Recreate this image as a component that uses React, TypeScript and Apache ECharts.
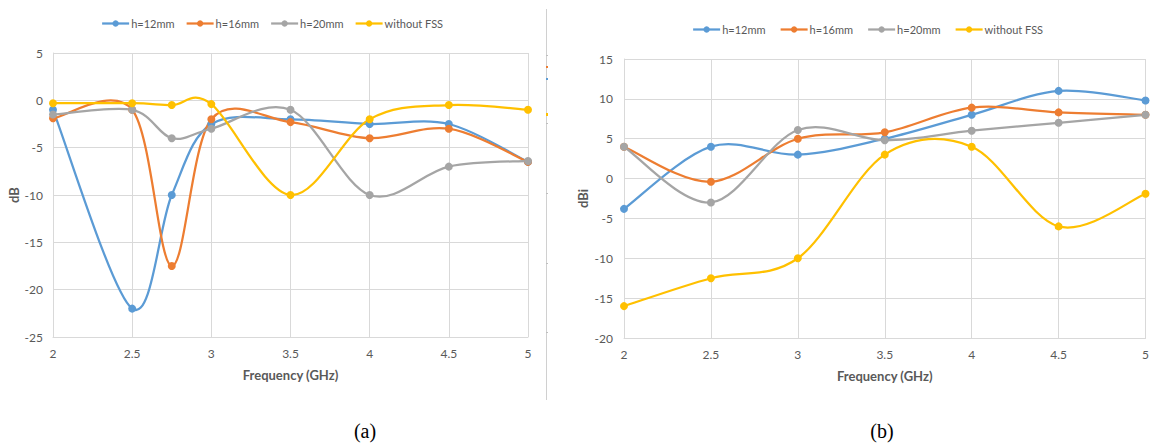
import React, { useEffect, useRef } from "react";
import * as echarts from "echarts";

const SERIES_NAMES = ["h=12mm", "h=16mm", "h=20mm", "without FSS"];
const COLORS = ["#5B9BD5", "#ED7D31", "#A5A5A5", "#FFC000"];

// Chart (a): dB vs frequency
const freqA = [2, 2.5, 2.75, 3, 3.5, 4, 4.5, 5];
const a_h12 = [-1.0, -22, -10, -2.5, -2, -2.5, -2.5, -6.5];
const a_h16 = [-1.9, -1.0, -17.5, -2, -2.3, -4, -3, -6.5];
const a_h20 = [-1.5, -1.0, -4, -3, -1, -10, -7, -6.4];
const a_noFSS = [-0.3, -0.3, -0.5, -0.4, -10, -2, -0.5, -1.0];

// Chart (b): dBi vs frequency
const freqB = [2, 2.5, 3, 3.5, 4, 4.5, 5];
const b_h12 = [-3.8, 4, 3, 5, 8, 11, 9.8];
const b_h16 = [4, -0.4, 5, 5.8, 8.9, 8.3, 8];
const b_h20 = [4, -3, 6.1, 4.8, 6, 7, 8];
const b_noFSS = [-16, -12.5, -10, 3, 4, -6, -1.9];

const xTicks = { min: 2, max: 5, interval: 0.5 };
const yTicksA = { min: -25, max: 5, interval: 5 };
const yTicksB = { min: -20, max: 15, interval: 5 };

const TXT = "#595959";
const GRID = "#D9D9D9";
const FONT = "Lato, 'Open Sans', sans-serif";

function pairs(xs: number[], ys: number[]) {
  return xs.map((x, i) => [x, ys[i]]);
}

export default function App() {
  const ref = useRef<HTMLDivElement>(null);
  useEffect(() => {
    if (!ref.current) return;
    const chart = echarts.init(ref.current, null, { renderer: "svg" });
    const xAxisBase = (gridIndex: number) => ({
      type: "value",
      gridIndex,
      ...xTicks,
      name: "Frequency (GHz)",
      nameLocation: "middle",
      nameGap: 31,
      nameTextStyle: { color: TXT, fontWeight: "bold", fontSize: 13, fontFamily: FONT },
      axisLine: { show: true, onZero: false, lineStyle: { color: GRID } },
      axisTick: { show: false },
      axisLabel: { color: TXT, fontSize: 12, fontFamily: FONT, margin: 10 },
      splitLine: { show: true, lineStyle: { color: GRID, width: 1 } },
    });
    const yAxisBase = (gridIndex: number, ticks: any, name: string, gap: number, margin: number) => ({
      type: "value",
      gridIndex,
      ...ticks,
      name,
      nameLocation: "middle",
      nameGap: gap,
      nameTextStyle: { color: TXT, fontWeight: "bold", fontSize: 13, fontFamily: FONT },
      axisLine: { show: true, lineStyle: { color: GRID } },
      axisTick: { show: false },
      axisLabel: { color: TXT, fontSize: 12, fontFamily: FONT, margin },
      splitLine: { show: true, lineStyle: { color: GRID, width: 1 } },
    });
    // markers (and legend entry) via line series; the visible smooth curve via a custom series
    const mk = (name: string, idx: number, data: number[][], axis: number) => ({
      type: "line",
      name,
      xAxisIndex: axis,
      yAxisIndex: axis,
      data,
      symbol: "circle",
      symbolSize: 8,
      lineStyle: { color: COLORS[idx], width: 2.25, opacity: 0 },
      itemStyle: { color: COLORS[idx] },
      z: 5,
    });
    const curve = (idx: number, xs: number[], ys: number[], axis: number) => ({
      type: "custom",
      name: "curve" + axis + "_" + idx,
      xAxisIndex: axis,
      yAxisIndex: axis,
      data: pairs(xs, ys),
      silent: true,
      z: 3,
      renderItem: (params: any, api: any) => {
        if (params.dataIndex !== 0) return null;
        const p = xs.map((x, i) => api.coord([x, ys[i]]));
        const n = p.length;
        const children: any[] = [];
        for (let i = 0; i < n - 1; i++) {
          const p0 = p[Math.max(i - 1, 0)];
          const p1 = p[i];
          const p2 = p[i + 1];
          const p3 = p[Math.min(i + 2, n - 1)];
          children.push({
            type: "bezierCurve",
            shape: {
              x1: p1[0],
              y1: p1[1],
              cpx1: p1[0] + (p2[0] - p0[0]) / 6,
              cpy1: p1[1] + (p2[1] - p0[1]) / 6,
              cpx2: p2[0] - (p3[0] - p1[0]) / 6,
              cpy2: p2[1] - (p3[1] - p1[1]) / 6,
              x2: p2[0],
              y2: p2[1],
            },
            style: { stroke: COLORS[idx], lineWidth: 2.25, fill: null, lineCap: "round" },
          });
        }
        return { type: "group", children };
      },
    });
    const legendBase = (left: number, top: number, gap: number) => ({
      data: SERIES_NAMES.map((n, i) => ({
        name: n,
        lineStyle: { color: COLORS[i], width: 2.25, opacity: 1 },
        itemStyle: { color: COLORS[i] },
      })),
      left,
      top,
      itemWidth: 27,
      itemHeight: 8,
      itemGap: gap,
      textStyle: { color: TXT, fontSize: 11, fontFamily: FONT, padding: [0, 0, 0, -3] },
      selectedMode: false,
    });
    const sideMarks: any[] = [];
    [55, 123, 193, 263, 332].forEach((y) =>
      sideMarks.push({ type: "rect", shape: { x: 546, y, width: 2, height: 1 }, style: { fill: "#BFBFBF" } })
    );
    sideMarks.push({ type: "rect", shape: { x: 546, y: 66, width: 2, height: 2 }, style: { fill: COLORS[1] } });
    sideMarks.push({ type: "rect", shape: { x: 546, y: 78, width: 2, height: 2 }, style: { fill: COLORS[0] } });
    sideMarks.push({ type: "rect", shape: { x: 546, y: 113, width: 2, height: 3 }, style: { fill: COLORS[3] } });

    const seriesA = [a_h12, a_h16, a_h20, a_noFSS];
    const seriesB = [b_h12, b_h16, b_h20, b_noFSS];
    const series: any[] = [];
    seriesA.forEach((ys, i) => series.push(curve(i, freqA, ys, 0)));
    seriesB.forEach((ys, i) => series.push(curve(i, freqB, ys, 1)));
    seriesA.forEach((ys, i) => series.push(mk(SERIES_NAMES[i], i, pairs(freqA, ys), 0)));
    seriesB.forEach((ys, i) => series.push(mk(SERIES_NAMES[i], i, pairs(freqB, ys), 1)));

    chart.setOption({
      animation: false,
      backgroundColor: "#ffffff",
      legend: [legendBase(96, 13, 11), legendBase(687, 19, 14)],
      grid: [
        { left: 53, top: 53, width: 475, height: 284 },
        { left: 624, top: 59, width: 526, height: 279 },
      ],
      xAxis: [xAxisBase(0), xAxisBase(1)],
      yAxis: [yAxisBase(0, yTicksA, "dB", 32, 10), yAxisBase(1, yTicksB, "dBi", 35, 11)],
      series,
      graphic: [
        { type: "line", shape: { x1: 546.5, y1: 9, x2: 546.5, y2: 400 }, style: { stroke: "#D0D0D0", lineWidth: 1 } },
        ...sideMarks,
        {
          type: "text",
          x: 365,
          y: 431,
          style: { text: "(a)", font: "20px 'Liberation Serif', serif", fill: "#000", align: "center", verticalAlign: "middle" },
        },
        {
          type: "text",
          x: 882,
          y: 431,
          style: { text: "(b)", font: "20px 'Liberation Serif', serif", fill: "#000", align: "center", verticalAlign: "middle" },
        },
      ],
    });
    return () => chart.dispose();
  }, []);
  return (
    <div
      ref={ref}
      style={{ position: "absolute", left: 0, top: 0, width: 1152, height: 444, background: "#fff" }}
    />
  );
}
